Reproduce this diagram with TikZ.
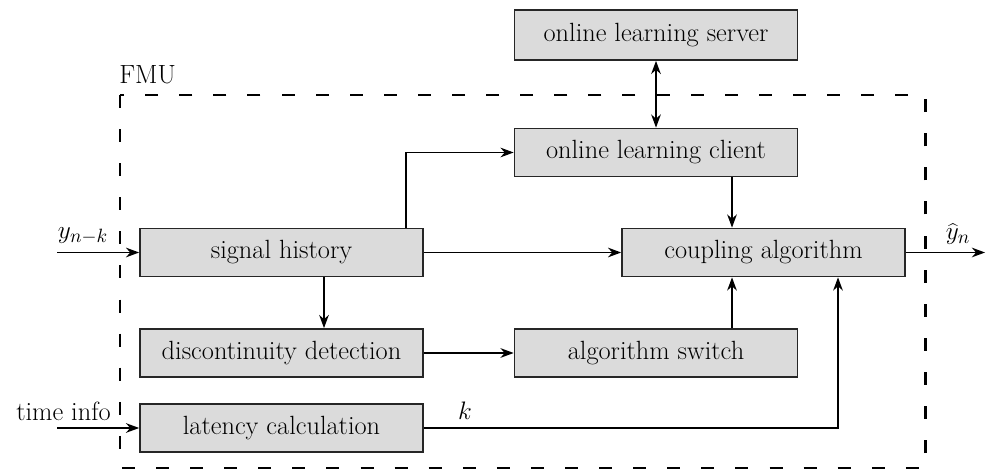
\documentclass[tikz,border=0pt]{standalone}
\usetikzlibrary{arrows.meta,calc}
\begin{document}
\begin{tikzpicture}[x=0.02cm,y=-0.02cm,
  font=\fontsize{15}{18}\selectfont,
  blk/.style={draw=black!85,line width=1pt,fill=black!14,minimum height=0.96cm,inner sep=0pt},
  wide/.style={minimum width=5.66cm},
  conn/.style={line width=0.8pt,-{Stealth[length=7.5pt,width=5.5pt,inset=2.4pt]}},
  bconn/.style={line width=0.8pt,{Stealth[length=7.5pt,width=5.5pt,inset=2.4pt]}-{Stealth[length=7.5pt,width=5.5pt,inset=2.4pt]}},
  fmu/.style={line width=1.7pt,dash pattern=on 7.4pt off 12pt}]
\useasboundingbox (0,0) rectangle (990,472);
% FMU boundary
\draw[fmu] (120,95) rectangle (925,468);
\node[anchor=west,inner sep=0pt] (fmul) at (119,75) {FMU};
% blocks
\node[blk,wide,minimum height=1.0cm] (srv) at (656,35) {online learning server};
\node[blk,wide] (cli) at (656,152.5) {online learning client};
\node[blk,wide] (sig) at (281.5,252.5) {signal history};
\node[blk,wide] (cpl) at (763.5,252.5) {coupling algorithm};
\node[blk,wide] (dis) at (281.5,353) {discontinuity detection};
\node[blk,wide] (sw) at (656,353) {algorithm switch};
\node[blk,wide] (lat) at (281.5,428) {latency calculation};
% free ends
\coordinate (yin) at (57,252.5);
\coordinate (tin) at (57,428);
\coordinate (yout) at (985,252.5);
\coordinate (cA) at (732,0);
\coordinate (cB) at (838,0);
\coordinate (cC) at (406,0);
\coordinate (cD) at (324,0);
% labels
\node[inner sep=0pt] (ylab) at (83,236) {$y_{n-k}$};
\node[anchor=east,inner sep=0pt] (tlab) at (111,411) {time info};
\node[inner sep=0pt] (yhl) at (958,234) {$\widehat{y}_n$};
\node[inner sep=0pt] (klab) at (465,411) {$k$};
% connectors
\draw[conn] (yin) -- (sig.west);
\draw[conn] (tin) -- (lat.west);
\draw[conn] (cpl.east) -- (yout);
\draw[bconn] (srv.south) -- (cli.north);
\draw[conn] (sig.north -| cC) |- (cli.west);
\draw[conn] (sig.east) -- (cpl.west);
\draw[conn] (sig.south -| cD) -- (dis.north -| cD);
\draw[conn] (dis.east) -- (sw.west);
\draw[conn] (cli.south -| cA) -- (cpl.north -| cA);
\draw[conn] (sw.north -| cA) -- (cpl.south -| cA);
\draw[conn] (lat.east) -| (cpl.south -| cB);
\end{tikzpicture}
\end{document}
